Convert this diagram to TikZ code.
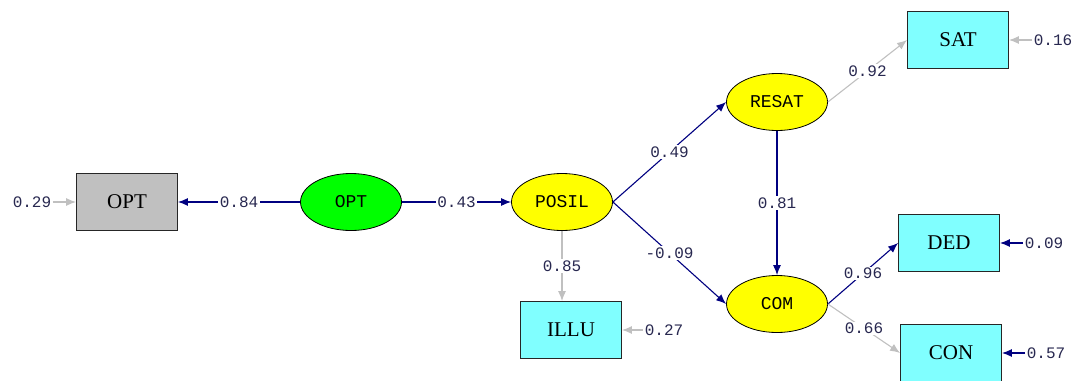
\documentclass[tikz,border=0pt]{standalone}
\usepackage{fontspec}
\setmainfont{Liberation Serif}
\newfontfamily\lisfont{Liberation Mono}
\usetikzlibrary{shapes.geometric,arrows.meta}
\definecolor{chemin}{RGB}{0,0,128}
\definecolor{pale}{RGB}{192,192,192}
\definecolor{chiffre}{RGB}{40,40,80}
\definecolor{cyanbox}{RGB}{128,255,255}
\definecolor{grisbox}{RGB}{192,192,192}
\definecolor{vert}{RGB}{0,255,0}
\definecolor{jaune}{RGB}{255,255,0}
\newcommand{\largeur}{101pt}
\newcommand{\hauteur}{57pt}
\tikzstyle{obs}=[rectangle, line width=0.9pt, minimum width=\largeur, minimum height=\hauteur, draw=black!85, fill=cyanbox, inner sep=0pt, font=\fontsize{21}{21}\selectfont]
\tikzstyle{lat}=[ellipse, line width=0.8pt, minimum width=\largeur, minimum height=\hauteur, draw=black, inner sep=0pt, font=\lisfont\fontsize{18}{18}\selectfont]
\tikzstyle{coef}=[fill=white, inner sep=1.5pt, text=chiffre, font=\lisfont\fontsize{16}{16}\selectfont]
\tikzstyle{nav}=[->, draw=chemin, line width=1.1pt]
\tikzstyle{gr}=[->, draw=pale, line width=1.1pt]
\newcommand{\fl}[4]{ \draw[#1] (#2) -- node[coef] {#4} (#3); }

\begin{document}
\begin{tikzpicture}[x=1pt,y=-1pt,>={Latex[length=10pt,width=8pt]}]
 \useasboundingbox (0,0) rectangle (1083,380);

 \node[obs,fill=grisbox] (OPTx) at (127,202) {OPT};
 \node[lat,fill=vert] (OPT) at (351,202) {OPT};
 \node[lat,fill=jaune] (POSIL) at (562,202) {POSIL};
 \node[lat,fill=jaune] (RESAT) at (777,102) {RESAT};
 \node[lat,fill=jaune] (COM) at (777,304) {COM};
 \node[obs] (ILLU) at (571,330) {ILLU};
 \node[obs] (SAT) at (958,40) {SAT};
 \node[obs] (DED) at (949,243) {DED};
 \node[obs] (CON) at (951,353) {CON};

 \fl{nav}{OPT.west}{OPTx.east}{0.84}
 \fl{nav}{OPT.east}{POSIL.west}{0.43}
 \fl{nav}{POSIL.east}{RESAT.west}{0.49}
 \fl{nav}{POSIL.east}{COM.west}{-0.09}
 \fl{nav}{RESAT.south}{COM.north}{0.81}
 \fl{gr}{POSIL.south}{POSIL.south |- ILLU.north}{0.85}
 \fl{gr}{RESAT.east}{SAT.west}{0.92}
 \fl{nav}{COM.east}{DED.west}{0.96}
 \fl{gr}{COM.east}{CON.west}{0.66}

 % erreurs
 \node[coef] (EOPTx) at (32,202) {0.29};
 \draw[gr] (EOPTx) -- (OPTx.west);
 \foreach \n/\x/\y/\c/\v in {SAT/1053/40/gr/0.16, DED/1044/243/nav/0.09, CON/1046/353/nav/0.57, ILLU/664/330/gr/0.27}{
     \node[coef] (E\n) at (\x,\y) {\v};
     \draw[\c] (E\n) -- (\n.east);
 }

\end{tikzpicture}
\end{document}
